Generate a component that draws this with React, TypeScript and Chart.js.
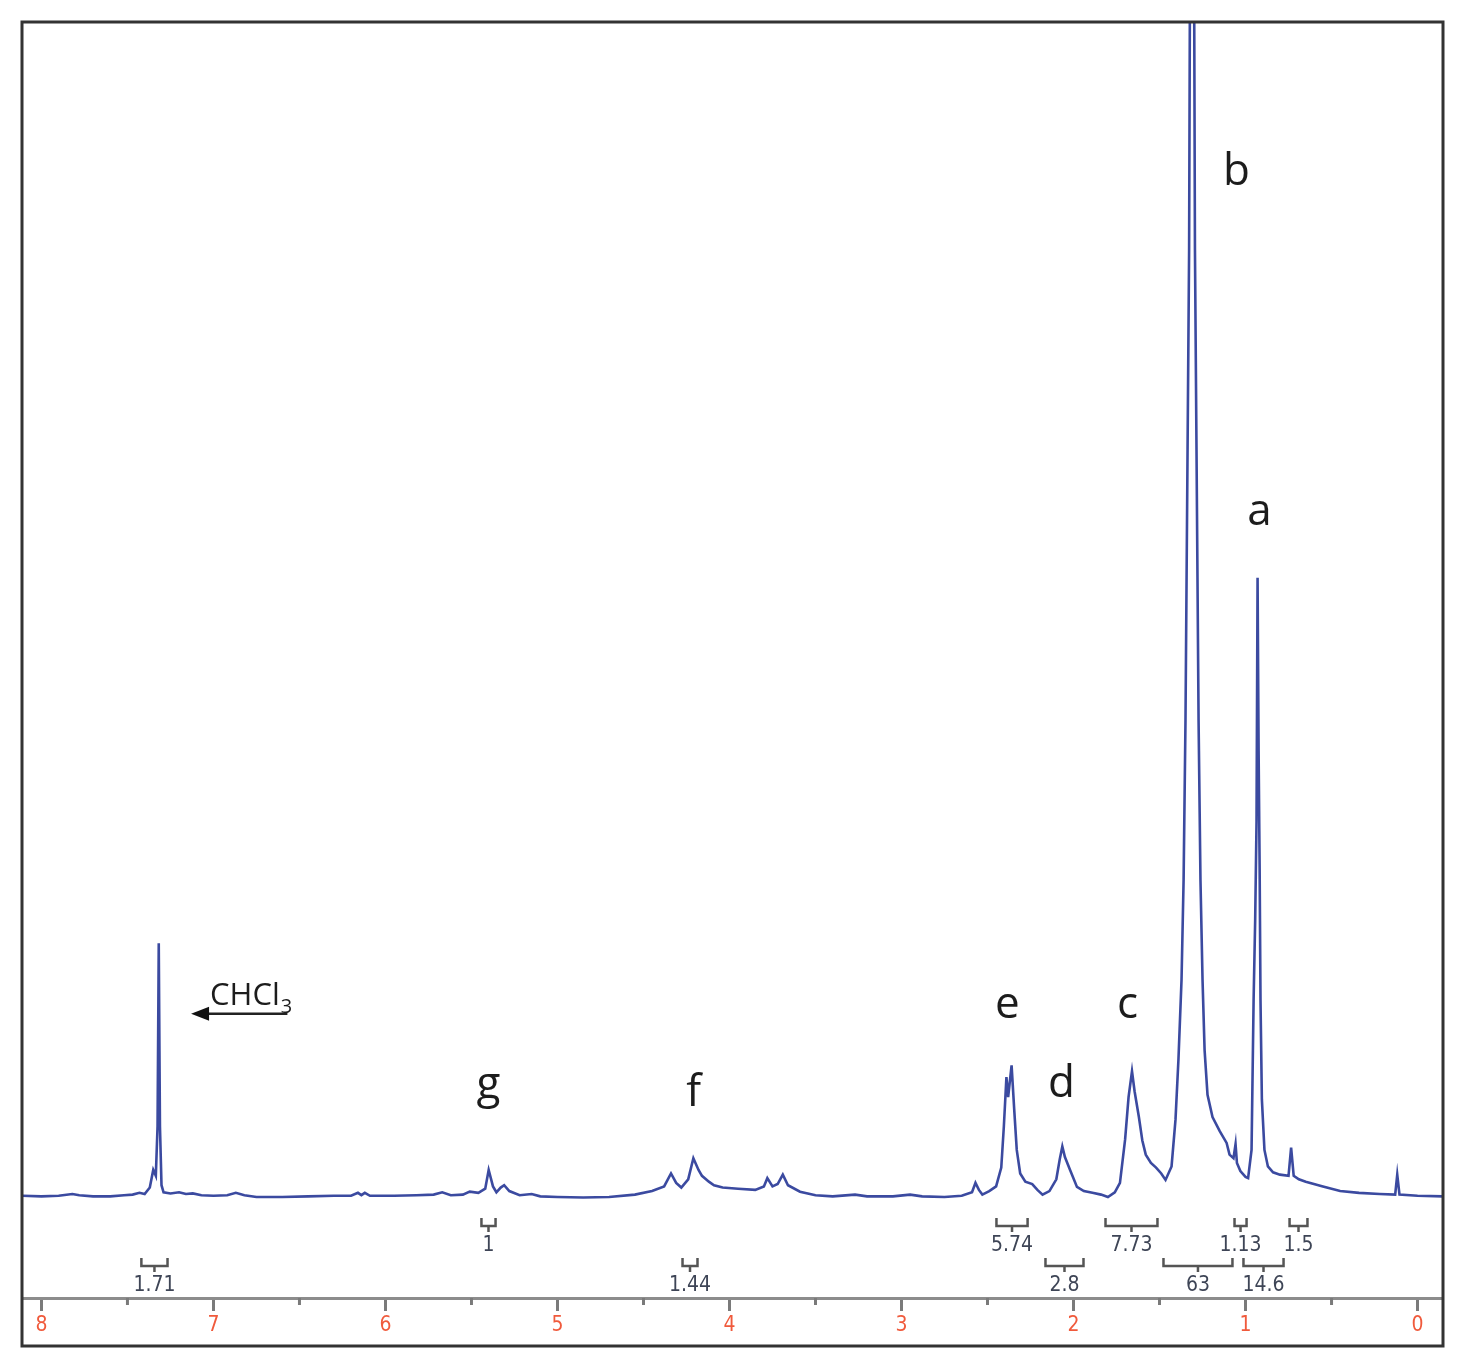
import React, { useEffect, useRef } from 'react';
import { Chart, registerables } from 'chart.js';

Chart.register(...registerables);

// 1H NMR spectrum trace (chemical shift in ppm, relative intensity)
const spectrumPpm = [
  8.11, 8.0, 7.9, 7.82, 7.78, 7.7, 7.6, 7.52, 7.47, 7.43, 7.4, 7.37, 7.35, 7.335, 7.325, 7.318, 7.311, 7.302,
  7.29, 7.25, 7.2, 7.16, 7.12, 7.07, 7.0, 6.92, 6.87, 6.82, 6.75, 6.6, 6.45, 6.3, 6.2, 6.16, 6.14, 6.12, 6.09,
  5.95, 5.82, 5.72, 5.67, 5.62, 5.55, 5.51, 5.46, 5.42, 5.4, 5.375, 5.355, 5.33, 5.31, 5.28, 5.22, 5.15, 5.1,
  5.0, 4.85, 4.7, 4.55, 4.45, 4.38, 4.34, 4.31, 4.28, 4.24, 4.21, 4.18, 4.16, 4.12, 4.09, 4.04, 3.95, 3.85,
  3.8, 3.78, 3.75, 3.72, 3.69, 3.66, 3.59, 3.5, 3.4, 3.27, 3.2, 3.05, 2.95, 2.88, 2.75, 2.65, 2.59, 2.57, 2.55,
  2.53, 2.49, 2.45, 2.42, 2.405, 2.39, 2.38, 2.36, 2.345, 2.33, 2.31, 2.28, 2.24, 2.21, 2.18, 2.14, 2.1, 2.08,
  2.065, 2.05, 2.02, 1.98, 1.94, 1.89, 1.84, 1.8, 1.76, 1.73, 1.7, 1.68, 1.66, 1.645, 1.62, 1.6, 1.58, 1.55,
  1.52, 1.49, 1.465, 1.43, 1.407, 1.39, 1.372, 1.36, 1.349, 1.337, 1.328, 1.311, 1.294, 1.285, 1.273, 1.262,
  1.25, 1.238, 1.221, 1.192, 1.15, 1.11, 1.093, 1.07, 1.058, 1.05, 1.03, 1.0, 0.985, 0.965, 0.953, 0.944,
  0.936, 0.93, 0.924, 0.918, 0.913, 0.905, 0.89, 0.87, 0.84, 0.8, 0.75, 0.735, 0.72, 0.69, 0.65, 0.55, 0.45,
  0.34, 0.22, 0.13, 0.118, 0.105, 0.0, -0.148,
];
const spectrumIntensity = [
  0.1, 0.05, 0.1, 0.25, 0.15, 0.05, 0.05, 0.15, 0.2, 0.35, 0.25, 0.8, 2.3, 1.8, 6, 21.6, 6, 1.0,
  0.4, 0.3, 0.4, 0.25, 0.3, 0.15, 0.1, 0.15, 0.35, 0.15, 0.0, 0.0, 0.05, 0.1, 0.1, 0.35, 0.15, 0.35, 0.1,
  0.1, 0.15, 0.2, 0.4, 0.15, 0.2, 0.45, 0.35, 0.7, 2.3, 0.9, 0.4, 0.8, 1.0, 0.5, 0.15, 0.25, 0.05,
  0.0, -0.05, 0.0, 0.2, 0.5, 0.9, 2.0, 1.2, 0.8, 1.5, 3.3, 2.3, 1.8, 1.3, 1.0, 0.8, 0.7, 0.6,
  0.9, 1.6, 0.9, 1.1, 1.9, 1.0, 0.45, 0.15, 0.05, 0.2, 0.05, 0.05, 0.2, 0.05, 0.0, 0.1, 0.4, 1.2, 0.6,
  0.2, 0.5, 0.9, 2.5, 6.0, 10.2, 8.5, 11.2, 7.5, 4.0, 2.0, 1.3, 1.1, 0.6, 0.2, 0.5, 1.5, 3.2,
  4.3, 3.4, 2.3, 0.85, 0.5, 0.35, 0.2, 0.0, 0.4, 1.2, 4.9, 8.5, 10.7, 9.0, 6.8, 4.8, 3.6, 2.9,
  2.5, 2.0, 1.45, 2.6, 6.6, 11.7, 18.5, 27, 40.6, 63.6, 80.6, 160, 80.6, 63.6, 40.6, 27,
  18.5, 12.5, 8.7, 6.8, 5.6, 4.6, 3.6, 3.3, 4.5, 2.9, 2.2, 1.7, 1.6, 4.0, 16.8, 23.5,
  32, 52.7, 38, 28, 16.8, 8.3, 4.0, 2.6, 2.1, 1.9, 1.8, 4.2, 1.8, 1.5, 1.3, 0.9, 0.5,
  0.35, 0.25, 0.2, 1.9, 0.2, 0.1, 0.05,
];

// Axis ticks (ppm)
const tickValues = [0, 0.5, 1, 1.5, 2, 2.5, 3, 3.5, 4, 4.5, 5, 5.5, 6, 6.5, 7, 7.5, 8];

// Peak assignment letters
const peakLetters = ['a', 'b', 'c', 'd', 'e', 'f', 'g'];
const peakLetterPpm = [0.919, 1.052, 1.686, 2.07, 2.384, 4.209, 5.401];
const peakLetterIntensity = [57.2, 86.1, 15.2, 8.5, 15.2, 7.7, 8.4];

// Integration regions
const integralLabels = ['1', '5.74', '7.73', '1.13', '1.5', '1.71', '1.44', '2.8', '63', '14.6'];
const integralFrom = [5.442, 2.448, 1.814, 1.064, 0.744, 7.419, 4.273, 2.163, 1.477, 1.012];
const integralTo = [5.36, 2.267, 1.512, 0.994, 0.64, 7.267, 4.186, 1.942, 1.076, 0.779];
const integralRow = [0, 0, 0, 0, 0, 1, 1, 1, 1, 1];
const integralRowIntensity = [-1.8, -5.2];

// Solvent annotation
const solventLabel = 'CHCl';
const solventSubscript = '3';
const solventTextPpm = 7.02;
const solventTextIntensity = 16.3;
const solventArrowFromPpm = 6.57;
const solventArrowToPpm = 7.13;
const solventArrowIntensity = 15.6;

const narrowFont = "'Liberation Sans Narrow', 'DejaVu Sans Condensed', 'Roboto Condensed', Roboto, sans-serif";

const annotationPlugin = {
  id: 'nmrAnnotations',
  afterDraw(chart: any) {
    const ctx = chart.ctx as CanvasRenderingContext2D;
    const xs = chart.scales.x;
    const ys = chart.scales.y;
    const area = chart.chartArea;
    ctx.save();

    // minor ticks
    ctx.strokeStyle = '#7a7a7a';
    ctx.lineWidth = 3;
    tickValues.forEach((v) => {
      if (Number.isInteger(v)) return;
      const x = xs.getPixelForValue(v);
      ctx.beginPath();
      ctx.moveTo(x, area.bottom);
      ctx.lineTo(x, area.bottom + 7);
      ctx.stroke();
    });

    // peak letters
    ctx.fillStyle = '#1c1c1c';
    ctx.font = "44px 'Open Sans', sans-serif";
    ctx.textAlign = 'center';
    ctx.textBaseline = 'alphabetic';
    peakLetters.forEach((l, i) => {
      ctx.fillText(l, xs.getPixelForValue(peakLetterPpm[i]), ys.getPixelForValue(peakLetterIntensity[i]));
    });

    // solvent label + arrow
    ctx.textAlign = 'left';
    ctx.font = "31px 'Open Sans', sans-serif";
    const tx = xs.getPixelForValue(solventTextPpm);
    const ty = ys.getPixelForValue(solventTextIntensity);
    ctx.fillText(solventLabel, tx, ty);
    const w = ctx.measureText(solventLabel).width;
    ctx.font = "20px 'Open Sans', sans-serif";
    ctx.fillText(solventSubscript, tx + w + 1, ty + 8);
    const ax1 = xs.getPixelForValue(solventArrowFromPpm);
    const ax2 = xs.getPixelForValue(solventArrowToPpm);
    const ay = ys.getPixelForValue(solventArrowIntensity);
    ctx.strokeStyle = '#222';
    ctx.lineWidth = 2.5;
    ctx.beginPath();
    ctx.moveTo(ax1, ay);
    ctx.lineTo(ax2 + 14, ay);
    ctx.stroke();
    ctx.fillStyle = '#111';
    ctx.beginPath();
    ctx.moveTo(ax2, ay);
    ctx.lineTo(ax2 + 18, ay - 7);
    ctx.lineTo(ax2 + 18, ay + 7);
    ctx.closePath();
    ctx.fill();

    // integrals
    ctx.strokeStyle = '#555';
    ctx.lineWidth = 2.5;
    ctx.fillStyle = '#3e4556';
    ctx.font = `21px ${narrowFont}`;
    ctx.textAlign = 'center';
    ctx.textBaseline = 'middle';
    integralLabels.forEach((lab, i) => {
      const x1 = xs.getPixelForValue(integralFrom[i]);
      const x2 = xs.getPixelForValue(integralTo[i]);
      const top = ys.getPixelForValue(integralRowIntensity[integralRow[i]]);
      const mid = (x1 + x2) / 2;
      ctx.beginPath();
      ctx.moveTo(x1, top);
      ctx.lineTo(x1, top + 8);
      ctx.lineTo(x2, top + 8);
      ctx.lineTo(x2, top);
      ctx.moveTo(mid, top + 8);
      ctx.lineTo(mid, top + 14);
      ctx.stroke();
      ctx.fillText(lab, mid, top + 27);
    });

    // outer frame
    ctx.strokeStyle = '#333';
    ctx.lineWidth = 3;
    ctx.strokeRect(area.left, area.top, area.right - area.left, chart.height - 26 - area.top);
    ctx.restore();
  },
};

export default function App() {
  const canvasRef = useRef<HTMLCanvasElement | null>(null);

  useEffect(() => {
    if (!canvasRef.current) return;
    const points = spectrumPpm.map((p, i) => ({ x: p, y: spectrumIntensity[i] }));
    const chart = new Chart(canvasRef.current, {
      type: 'line',
      data: {
        datasets: [
          {
            data: points,
            borderColor: '#3b4aa0',
            borderWidth: 2.6,
            pointRadius: 0,
            tension: 0,
            fill: false,
          },
        ],
      },
      options: {
        animation: false,
        responsive: false,
        devicePixelRatio: 1,
        layout: { padding: { left: 22, right: 25, top: 22, bottom: 26 } },
        plugins: { legend: { display: false }, tooltip: { enabled: false } },
        scales: {
          x: {
            type: 'linear',
            reverse: true,
            min: -0.148,
            max: 8.113,
            afterBuildTicks: (s: any) => {
              s.ticks = tickValues.map((v) => ({ value: v }));
            },
            afterFit: (s: any) => {
              s.height = 48;
            },
            grid: {
              display: true,
              drawOnChartArea: false,
              drawTicks: true,
              tickLength: 13,
              tickWidth: 3,
              tickColor: (c: any) => (c.tick && Number.isInteger(c.tick.value) ? '#7a7a7a' : 'rgba(0,0,0,0)'),
            },
            border: { display: true, color: '#8c8c8c', width: 3 },
            ticks: {
              autoSkip: false,
              maxRotation: 0,
              padding: 2,
              color: '#f05a3c',
              font: { family: narrowFont, size: 21 },
              callback: (v: any) => (Number.isInteger(v) ? String(v) : ''),
            },
          },
          y: { display: false, min: -8.6, max: 100 },
        },
      },
      plugins: [annotationPlugin],
    } as any);
    return () => chart.destroy();
  }, []);

  return (
    <div style={{ position: 'absolute', left: 0, top: 0, width: 1468, height: 1372, background: '#fff' }}>
      <canvas ref={canvasRef} width={1468} height={1372} style={{ display: 'block' }} />
    </div>
  );
}
